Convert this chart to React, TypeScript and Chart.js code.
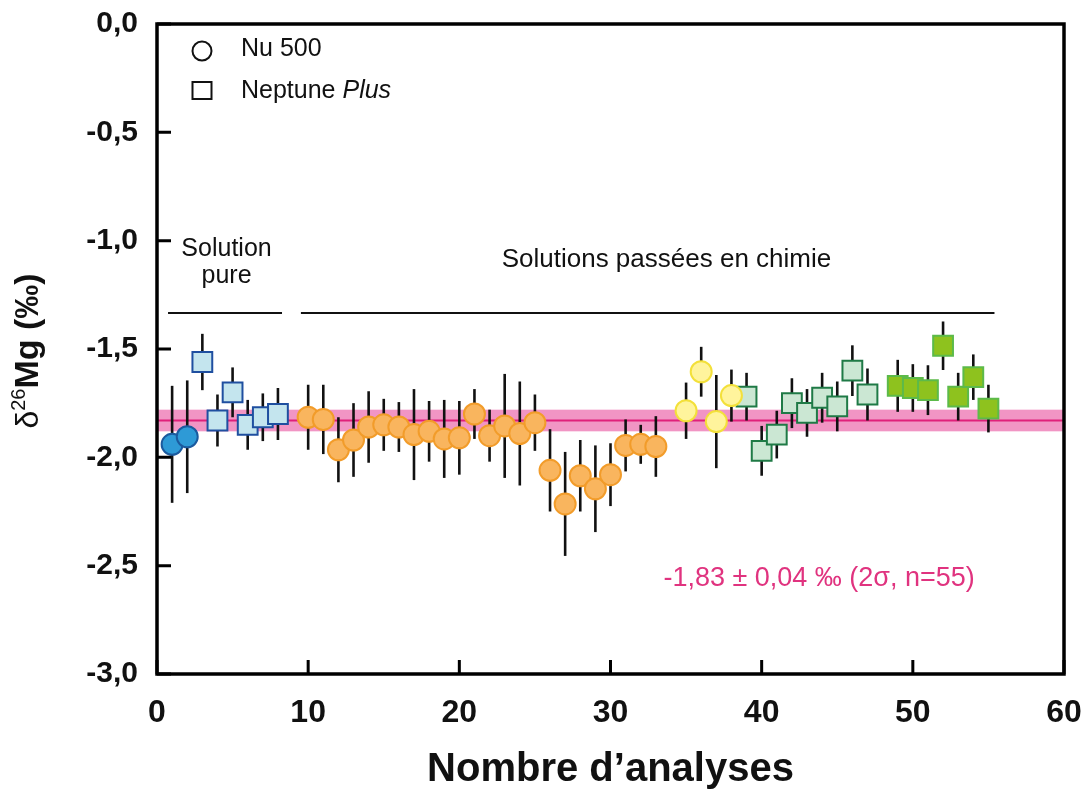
import React, { useEffect, useRef } from 'react';
import { Chart, registerables } from 'chart.js';

Chart.register(...registerables);

const FONT = "'Liberation Sans', Arial, Helvetica, sans-serif";

// Axis ticks
const xTickValues = [0, 10, 20, 30, 40, 50, 60];
const yTickValues = [0, -0.5, -1, -1.5, -2, -2.5, -3];

// Solution pure — Nu 500 (circles)
const pureNuX = [1, 2];
const pureNuY = [-1.94, -1.905];
const pureNuErr = [0.27, 0.26];

// Solution pure — Neptune Plus (squares)
const pureNepX = [3, 4, 5, 6, 7, 8];
const pureNepY = [-1.56, -1.83, -1.70, -1.85, -1.815, -1.80];
const pureNepErr = [0.13, 0.12, 0.115, 0.115, 0.11, 0.12];

// Chimie — Nu 500 orange circles
const chemOrangeX = [10, 11, 12, 13, 14, 15, 16, 17, 18, 19, 20, 21, 22, 23, 24, 25, 26, 27, 28, 29, 30, 31, 32, 33];
const chemOrangeY = [-1.815, -1.825, -1.965, -1.92, -1.86, -1.85, -1.86, -1.895, -1.88, -1.915, -1.91, -1.80, -1.90, -1.855, -1.89, -1.84, -2.06, -2.215, -2.085, -2.145, -2.08, -1.945, -1.94, -1.95];
const chemOrangeErr = [0.15, 0.16, 0.15, 0.17, 0.165, 0.12, 0.115, 0.21, 0.14, 0.18, 0.17, 0.115, 0.12, 0.24, 0.24, 0.13, 0.19, 0.24, 0.165, 0.2, 0.145, 0.12, 0.09, 0.14];

// Chimie — Nu 500 yellow circles
const chemYellowX = [35, 36, 37, 38];
const chemYellowY = [-1.785, -1.605, -1.835, -1.715];
const chemYellowErr = [0.13, 0.115, 0.215, 0.12];

// Chimie — Neptune Plus light green squares
const chemLightGreenX = [39, 40, 41, 42, 43, 44, 45, 46, 47];
const chemLightGreenY = [-1.72, -1.97, -1.895, -1.75, -1.795, -1.725, -1.765, -1.6, -1.71];
const chemLightGreenErr = [0.11, 0.115, 0.11, 0.115, 0.11, 0.115, 0.115, 0.117, 0.12];

// Chimie — Neptune Plus green squares
const chemGreenX = [49, 50, 51, 52, 53, 54, 55];
const chemGreenY = [-1.67, -1.68, -1.69, -1.485, -1.72, -1.63, -1.775];
const chemGreenErr = [0.12, 0.11, 0.115, 0.112, 0.11, 0.105, 0.11];

// Mean and 2σ
const meanValue = -1.83;
const twoSigma = 0.05;
const meanLabel = '-1,83 ± 0,04 ‰ (2σ, n=55)';

const groupLineY = -1.334;
const pureLine = [0.73, 8.27];
const chemLine = [9.52, 55.4];

const toPts = (xs: number[], ys: number[]) => xs.map((x, i) => ({ x, y: ys[i] }));

const fmt = (v: number) => {
  if (Math.abs(v) < 1e-9) return '0,0';
  return v.toFixed(1).replace('.', ',');
};

const overlayPlugin = {
  id: 'overlay',
  beforeDatasetsDraw(chart: any) {
    const { ctx, chartArea: a, scales } = chart;
    const xs = scales.x;
    const ys = scales.y;
    ctx.save();
    // band
    const yT = ys.getPixelForValue(meanValue + twoSigma);
    const yB = ys.getPixelForValue(meanValue - twoSigma);
    ctx.fillStyle = 'rgba(239, 130, 186, 0.85)';
    ctx.fillRect(a.left, yT, a.right - a.left, yB - yT);
    ctx.strokeStyle = '#E0207A';
    ctx.lineWidth = 2;
    ctx.beginPath();
    const ym = ys.getPixelForValue(meanValue);
    ctx.moveTo(a.left, ym);
    ctx.lineTo(a.right, ym);
    ctx.stroke();
    // error bars
    ctx.strokeStyle = '#111';
    ctx.lineWidth = 2.6;
    chart.data.datasets.forEach((ds: any) => {
      ds.data.forEach((p: any, j: number) => {
        const e = ds.errors[j];
        const px = xs.getPixelForValue(p.x);
        ctx.beginPath();
        ctx.moveTo(px, ys.getPixelForValue(p.y + e));
        ctx.lineTo(px, ys.getPixelForValue(p.y - e));
        ctx.stroke();
      });
    });
    ctx.restore();
  },
  afterDraw(chart: any) {
    const { ctx, chartArea: a, scales } = chart;
    const xs = scales.x;
    const ys = scales.y;
    ctx.save();
    // frame
    ctx.strokeStyle = '#000';
    ctx.lineWidth = 3.5;
    ctx.strokeRect(a.left, a.top, a.right - a.left, a.bottom - a.top);
    // inward ticks
    ctx.lineWidth = 3;
    ctx.beginPath();
    xTickValues.forEach((v) => {
      const px = xs.getPixelForValue(v);
      ctx.moveTo(px, a.bottom);
      ctx.lineTo(px, a.bottom - 14);
    });
    yTickValues.forEach((v) => {
      const py = ys.getPixelForValue(v);
      ctx.moveTo(a.left, py);
      ctx.lineTo(a.left + 14, py);
    });
    ctx.stroke();

    // group lines
    ctx.lineWidth = 2;
    ctx.strokeStyle = '#111';
    const gy = ys.getPixelForValue(groupLineY);
    ctx.beginPath();
    ctx.moveTo(xs.getPixelForValue(pureLine[0]), gy);
    ctx.lineTo(xs.getPixelForValue(pureLine[1]), gy);
    ctx.moveTo(xs.getPixelForValue(chemLine[0]), gy);
    ctx.lineTo(xs.getPixelForValue(chemLine[1]), gy);
    ctx.stroke();

    // annotations
    ctx.fillStyle = '#111';
    ctx.textAlign = 'center';
    ctx.textBaseline = 'alphabetic';
    ctx.font = `25px ${FONT}`;
    ctx.fillText('Solution', xs.getPixelForValue(4.6), ys.getPixelForValue(-1.07));
    ctx.fillText('pure', xs.getPixelForValue(4.6), ys.getPixelForValue(-1.195));
    ctx.font = `26px ${FONT}`;
    ctx.fillText('Solutions passées en chimie', xs.getPixelForValue(33.7), ys.getPixelForValue(-1.121));
    ctx.font = `27px ${FONT}`;
    ctx.fillStyle = '#E0337F';
    ctx.fillText(meanLabel, xs.getPixelForValue(43.8), ys.getPixelForValue(-2.594));

    // legend
    const lx = a.left + 45;
    ctx.strokeStyle = '#111';
    ctx.lineWidth = 2;
    ctx.fillStyle = '#fff';
    ctx.beginPath();
    ctx.arc(lx, a.top + 27, 9.5, 0, Math.PI * 2);
    ctx.fill();
    ctx.stroke();
    ctx.fillRect(lx - 9.5, a.top + 58, 19, 17);
    ctx.strokeRect(lx - 9.5, a.top + 58, 19, 17);
    ctx.fillStyle = '#111';
    ctx.textAlign = 'left';
    ctx.textBaseline = 'middle';
    ctx.font = `25px ${FONT}`;
    ctx.fillText('Nu 500', lx + 39, a.top + 25);
    ctx.fillText('Neptune ', lx + 39, a.top + 67);
    const w = ctx.measureText('Neptune ').width;
    ctx.font = `italic 25px ${FONT}`;
    ctx.fillText('Plus', lx + 39 + w, a.top + 67);

    // y-axis title
    ctx.save();
    ctx.translate(28, (a.top + a.bottom) / 2 + 2);
    ctx.rotate(-Math.PI / 2);
    ctx.textBaseline = 'middle';
    ctx.textAlign = 'left';
    const p1 = 'δ';
    const p2 = '26';
    const p3 = 'Mg (‰)';
    ctx.font = `32px ${FONT}`;
    const w1 = ctx.measureText(p1).width;
    ctx.font = `20px ${FONT}`;
    const w2 = ctx.measureText(p2).width;
    ctx.font = `bold 34px ${FONT}`;
    const w3 = ctx.measureText(p3).width;
    let sx = -(w1 + w2 + w3) / 2;
    ctx.fillStyle = '#111';
    ctx.font = `32px ${FONT}`;
    ctx.fillText(p1, sx, 1);
    sx += w1;
    ctx.font = `20px ${FONT}`;
    ctx.fillText(p2, sx, -9);
    sx += w2;
    ctx.font = `bold 34px ${FONT}`;
    ctx.fillText(p3, sx, 1);
    ctx.restore();

    ctx.restore();
  },
};

export default function App() {
  const ref = useRef<HTMLCanvasElement | null>(null);
  useEffect(() => {
    if (!ref.current) return;
    const mk = (label: string, xs: number[], ys: number[], err: number[], style: string, fill: string, border: string, r: number) => ({
      label,
      data: toPts(xs, ys),
      errors: err,
      pointStyle: style,
      pointRadius: r,
      pointHoverRadius: r,
      backgroundColor: fill,
      borderColor: border,
      pointBorderWidth: 2,
      borderWidth: 2,
      showLine: false,
    });
    const chart = new Chart(ref.current, {
      type: 'scatter',
      data: {
        datasets: [
          mk('Solution pure Nu 500', pureNuX, pureNuY, pureNuErr, 'circle', '#2E9AD6', '#1B5A9E', 10.5),
          mk('Solution pure Neptune Plus', pureNepX, pureNepY, pureNepErr, 'rect', '#C4E5EE', '#1F4FA0', 14),
          mk('Chimie Nu 500 (a)', chemOrangeX, chemOrangeY, chemOrangeErr, 'circle', '#F9B55E', '#F29C2A', 10.5),
          mk('Chimie Nu 500 (b)', chemYellowX, chemYellowY, chemYellowErr, 'circle', '#FFF49C', '#F3E03A', 10.5),
          mk('Chimie Neptune Plus (a)', chemLightGreenX, chemLightGreenY, chemLightGreenErr, 'rect', '#CBE7D3', '#1F7A46', 14),
          mk('Chimie Neptune Plus (b)', chemGreenX, chemGreenY, chemGreenErr, 'rect', '#8EC21E', '#5CBA4A', 14),
        ] as any,
      },
      options: {
        animation: false,
        responsive: false,
        devicePixelRatio: 1,
        layout: { padding: { top: 24, right: 21, left: 0, bottom: 0 } },
        plugins: { legend: { display: false }, tooltip: { enabled: false } },
        scales: {
          x: {
            type: 'linear',
            min: 0,
            max: 60,
            afterBuildTicks: (s: any) => { s.ticks = xTickValues.map((v) => ({ value: v })); },
            afterFit: (s: any) => { s.height = 117; s.paddingLeft = 0; s.paddingRight = 0; },
            grid: { display: false },
            border: { display: false },
            ticks: { color: '#111', font: { family: FONT, size: 32, weight: 'bold' }, padding: 12, maxRotation: 0 },
            title: { display: true, text: 'Nombre d’analyses', color: '#111', font: { family: FONT, size: 40, weight: 'bold', lineHeight: 1.05 }, padding: { top: 0, bottom: 0 } },
          },
          y: {
            type: 'linear',
            min: -3,
            max: 0,
            afterBuildTicks: (s: any) => { s.ticks = yTickValues.slice().reverse().map((v) => ({ value: v })); },
            afterFit: (s: any) => { s.width = 157; s.paddingTop = 0; s.paddingBottom = 0; },
            grid: { display: false },
            border: { display: false },
            ticks: { color: '#111', font: { family: FONT, size: 30, weight: 'bold' }, padding: 11, callback: (v: any) => fmt(Number(v)) },
          },
        },
      },
      plugins: [overlayPlugin],
    } as any);
    return () => chart.destroy();
  }, []);
  return (
    <div style={{ position: 'absolute', left: 0, top: 0, width: 1085, height: 791, background: '#fff' }}>
      <canvas ref={ref} width={1085} height={791} style={{ display: 'block', width: 1085, height: 791 }} />
    </div>
  );
}
